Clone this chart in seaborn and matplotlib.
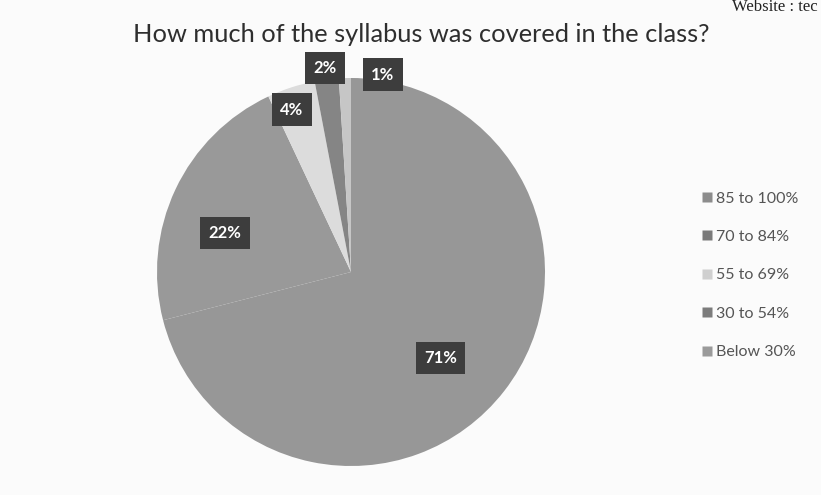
import numpy as np
import matplotlib
matplotlib.use("Agg")
import matplotlib.pyplot as plt
import seaborn as sns

categories = ["85 to 100%", "70 to 84%", "55 to 69%", "30 to 54%", "Below 30%"]
values = [71, 22, 4, 2, 1]
pct_labels = ["71%", "22%", "4%", "2%", "1%"]
title = "How much of the syllabus was covered in the class?"

slice_colors = ["#979797", "#999999", "#dcdcdc", "#858585", "#c6c6c6"]
legend_colors = ["#8c8c8c", "#7a7a7a", "#cfcfcf", "#7c7c7c", "#9a9a9a"]
label_r = [0.64, 0.68, 0.89, 1.06, 1.03]
label_dang = [-6, 8, 2, 0, -11]

sns.set_theme(style="white")
plt.rcParams['font.family'] = ['Lato', 'DejaVu Sans']

W, H = 821, 495
fig = plt.figure(figsize=(W / 100, H / 100), dpi=100)
fig.patch.set_facecolor("#fbfbfb")

cx, cy, R = 351, 272, 194
ax = fig.add_axes([(cx - R) / W, (H - cy - R) / H, 2 * R / W, 2 * R / H])
wedges, _ = ax.pie(values, colors=slice_colors, startangle=90, counterclock=False,
                   radius=1.0, wedgeprops=dict(linewidth=0))
ax.set_xlim(-1, 1)
ax.set_ylim(-1, 1)
ax.set_aspect("auto")
ax.axis("off")

for w, lab, r, da in zip(wedges, pct_labels, label_r, label_dang):
    mid = np.deg2rad((w.theta1 + w.theta2) / 2 + da)
    ax.text(r * np.cos(mid), r * np.sin(mid), lab, ha="center", va="center",
            color="white", fontsize=12, fontweight="bold", zorder=5,
            bbox=dict(boxstyle="square,pad=0.5", fc="#3d3d3d", ec="none"),
            clip_on=False)

fig.text(421 / W, 1 - 34 / H, title, ha="center", va="center",
         fontsize=18.3, color="#2e2e2e")
fig.text(818 / W, 1 - 7 / H, "Website : tec", ha="right", va="center",
         fontsize=12, color="#222222", family=['Liberation Serif'])

handles = [plt.Line2D([], [], marker="s", linestyle="", markersize=7,
                      markerfacecolor=c, markeredgecolor="none") for c in legend_colors]
fig.legend(handles, categories, loc="upper left", bbox_to_anchor=(686 / W, 1 - 177 / H),
           frameon=False, fontsize=11.5, labelspacing=1.52, handletextpad=0.2,
           handlelength=0.8, labelcolor="#555555")

fig.savefig("out.png", dpi=100, facecolor=fig.get_facecolor())
